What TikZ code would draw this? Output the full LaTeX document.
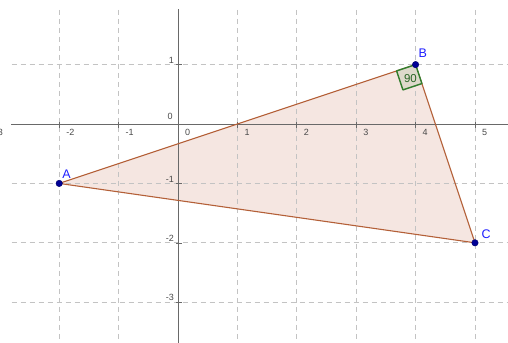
\documentclass[tikz,border=0pt]{standalone}
\usepackage{fontspec}
\setmainfont{Liberation Sans}
\usetikzlibrary{positioning,calc}
\definecolor{edgebrown}{RGB}{180,96,56}
\definecolor{fillpink}{RGB}{245,230,225}
\definecolor{gridgray}{RGB}{195,195,195}
\definecolor{axisgray}{RGB}{105,105,105}
\definecolor{ptblue}{RGB}{0,0,150}
\definecolor{lblblue}{RGB}{30,30,255}
\definecolor{angreen}{RGB}{50,125,45}

\begin{document}
\begin{tikzpicture}[
  x=59.4pt, y=59.4pt,
  font=\fontsize{9}{10}\selectfont,
  gridline/.style={gridgray, dash pattern=on 5pt off 4pt, line width=0.7pt},
  axisline/.style={axisgray, line width=0.8pt},
  ticklabel/.style={text=axisgray!70!black, inner sep=1pt},
  pt/.style={circle, fill=ptblue, draw=ptblue!70!black, line width=0.4pt,
             inner sep=0pt, minimum size=6.5pt},
  ptlabel/.style={text=lblblue, font=\fontsize{12.5}{13}\selectfont, inner sep=0.5pt},
  edge/.style={edgebrown, line width=1.1pt}
]
  \clip (-2.997,-3.687) rectangle (5.556,2.088);
  \useasboundingbox (-2.997,-3.687) rectangle (5.556,2.088);

  \coordinate (A) at (-2,-1);
  \coordinate (B) at (4,1);
  \coordinate (C) at (5,-2);

  \fill[fillpink] (A) -- (B) -- (C) -- cycle;

  \foreach \x in {-2,-1,1,2,3,4,5}
    \draw[gridline] (\x,1.92) -- (\x,-3.7);
  \foreach \y in {1,-1,-2,-3}
    \draw[gridline] (-2.8,\y) -- (5.6,\y);

  \draw[axisline] (-2.81,0) -- (5.6,0);
  \draw[axisline] (0,1.93) -- (0,-3.7);
  \foreach \x in {-2,-1,1,2,3,4,5}
    \draw[axisline, line width=0.6pt] (\x,0.03) -- (\x,-0.07);
  \foreach \y in {1,-1,-2,-3}
    \draw[axisline, line width=0.6pt] (-0.03,\y) -- (0.07,\y);

  \foreach \x in {-2,-1,0,1,2,3,4,5}
    \node[ticklabel, anchor=north west] (xl\x) at (\x+0.1,-0.07) {\x};
  \node[ticklabel, anchor=north east] (xl-3) at (-2.93,-0.07) {-3};
  \foreach \y in {1,-1,-2,-3}
    \node[ticklabel, anchor=south east] (yl\y) at (-0.05,\y) {\y};
  \node[ticklabel, anchor=south east] (yl0) at (-0.07,0.05) {0};

  \draw[edge, line join=round] (A) -- (B) -- (C) -- cycle;

  \coordinate (sqa) at ($(B)!20pt!(A)$);
  \coordinate (sqc) at ($(B)!20pt!(C)$);
  \filldraw[fill=angreen!12!fillpink, draw=angreen, line width=1.4pt, line join=round]
    (B) -- (sqa) -- ($(sqa)+(sqc)-(B)$) -- (sqc) -- cycle;
  \node[text=angreen!80!black, font=\fontsize{11.5}{12}\selectfont, inner sep=0pt]
    (ang) at ($(sqa)!0.5!(sqc)+(0.02,-0.02)$) {90};

  \node[pt] (pa) at (A) {};
  \node[pt] (pb) at (B) {};
  \node[pt] (pc) at (C) {};
  \node[ptlabel, above right=2pt and 0pt of pa] (la) {A};
  \node[ptlabel, above right=3.5pt and 0pt of pb] (lb) {B};
  \node[ptlabel, above right=1pt and 3.5pt of pc] (lc) {C};
\end{tikzpicture}
\end{document}
